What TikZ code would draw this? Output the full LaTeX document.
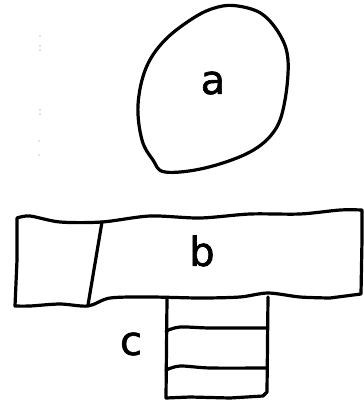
\documentclass[tikz,border=0pt]{standalone}
\usepackage{fontspec}
\newfontfamily\lblfont[FakeBold=1.6]{DejaVu Sans}
\begin{document}
\begin{tikzpicture}[x=1pt,y=-1pt,
  ink/.style={line width=3.2pt,line join=round,line cap=round},
  lbl/.style={font=\lblfont\fontsize{40}{40}\selectfont,inner sep=0pt},
  speck/.style={fill=black!45}]
\useasboundingbox (0,0) rectangle (364,405);
% oval a
\draw[ink] plot[smooth cycle,tension=0.6] coordinates{
 (238,6) (262,14) (280,35) (288,60) (285,100) (275,130) (250,152) (205,168)
 (165,172) (153,160) (142,140) (138,105) (146,68) (165,40) (195,17) (218,7)};
\node[lbl] (a) at (213,83) {a};
% specks on the left
\fill[speck] (40,36) circle (0.6) (40,46) circle (0.7) (40,50) circle (0.6)
 (40,110) circle (0.7) (40,114) circle (0.6) (39,141) circle (0.6) (39,155) circle (0.6);
% strip b
\draw[ink] plot[smooth,tension=0.5] coordinates{(17,218) (30,216) (60,222) (102,222) (150,216) (200,218) (250,214) (300,214) (340,210) (362,210)}
  -- (362,240) -- (361,294)
  -- plot[smooth,tension=0.5] coordinates{(330,298) (300,297) (268,293) (240,297) (200,298) (150,297) (110,298) (88,306) (60,304) (30,306) (15,306)}
  -- (17,260) -- cycle;
\draw[ink] (102,222) -- (88,305);
\node[lbl] (b) at (202,251) {b};
% stack c
\draw[ink] (167,299) -- (166,398) -- (190,397) -- (230,398) -- (263,396) -- (267,392) -- (268,297);
\draw[ink] plot[smooth,tension=0.5] coordinates{(166,331) (180,327) (210,328) (266,328)};
\draw[ink] plot[smooth,tension=0.5] coordinates{(166,370) (180,366) (210,368) (266,368)};
\node[lbl] (c) at (131,344) {c};
\end{tikzpicture}
\end{document}
